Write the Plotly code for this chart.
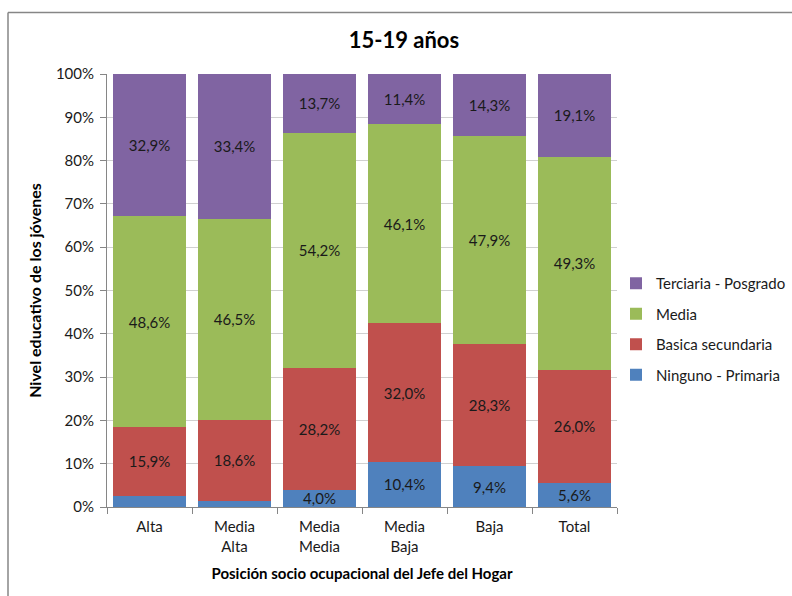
import plotly.graph_objects as go

categorias = ["Alta", "Media<br>Alta", "Media<br>Media", "Media<br>Baja", "Baja", "Total"]

ninguno_primaria = [2.6, 1.5, 4.0, 10.4, 9.4, 5.6]
basica_secundaria = [15.9, 18.6, 28.2, 32.0, 28.3, 26.0]
media = [48.6, 46.5, 54.2, 46.1, 47.9, 49.3]
terciaria_posgrado = [32.9, 33.4, 13.7, 11.4, 14.3, 19.1]

# segments too thin to carry a label
ocultar = {"Ninguno - Primaria": [True, True, False, False, False, False]}

series = [
    ("Ninguno - Primaria", ninguno_primaria, "#4F81BD"),
    ("Basica secundaria", basica_secundaria, "#C0504D"),
    ("Media", media, "#9BBB59"),
    ("Terciaria - Posgrado", terciaria_posgrado, "#8064A2"),
]

FONT = "Lato, 'Open Sans', sans-serif"
fig = go.Figure()
for i, (nombre, valores, color) in enumerate(series):
    skip = ocultar.get(nombre, [False] * len(valores))
    textos = ["" if s else f"{v:.1f}%".replace(".", ",") for v, s in zip(valores, skip)]
    fig.add_trace(go.Bar(
        x=categorias, y=valores, name=nombre,
        marker=dict(color=color, line=dict(width=0)),
        text=textos, textposition="inside", insidetextanchor="middle",
        constraintext="none", textangle=0,
        textfont=dict(family=FONT, size=15, color="#1a1a1a"),
        legendgroup=f"g{i}", legendrank=100 - i, hoverinfo="skip",
    ))

L, R, T, B = 107, 617, 74, 507
W, H = 792, 596
pw, ph = R - L, B - T

fig.update_layout(
    width=W, height=H,
    margin=dict(l=L, r=W - R, t=T, b=H - B, pad=0, autoexpand=False),
    barmode="stack", bargap=0.15,
    paper_bgcolor="white", plot_bgcolor="white",
    font=dict(family=FONT, size=15, color="#404040"),
    title=dict(text="<b>15-19 años</b>", x=0.51, xref="container", xanchor="center",
               y=1 - 40 / H, yref="container", yanchor="middle",
               font=dict(family=FONT, size=22, color="#000000")),
    legend=dict(x=(616 - L) / pw, xanchor="left", y=(507 - 267) / ph, yanchor="top",
                traceorder="grouped", tracegroupgap=8,
                font=dict(family=FONT, size=15, color="#1a1a1a"),
                itemwidth=30, bgcolor="rgba(0,0,0,0)"),
    showlegend=True,
)
fig.update_xaxes(
    showgrid=False, showline=True, linecolor="#868686", linewidth=1,
    ticks="outside", tickson="boundaries", ticklen=6, tickcolor="#868686",
    ticklabelstandoff=6,
    tickfont=dict(family=FONT, size=15, color="#1a1a1a"),
    title=dict(text="<b>Posición socio ocupacional del Jefe del Hogar</b>",
               font=dict(family=FONT, size=15, color="#000000"), standoff=14),
)
fig.update_yaxes(
    range=[0, 100], dtick=10, ticksuffix="%",
    showgrid=True, gridcolor="#d0d0d0", gridwidth=1,
    showline=True, linecolor="#868686", linewidth=1,
    ticks="outside", ticklen=6, tickcolor="#868686",
    ticklabelstandoff=3,
    tickfont=dict(family=FONT, size=15, color="#1a1a1a"),
    title=dict(text="<b>Nivel educativo de los jóvenes</b>",
               font=dict(family=FONT, size=16, color="#000000"), standoff=10),
)

# chart-area frame (top and left edges)
fx = (8 - L) / pw
fy = (B - 12.5) / ph
fig.add_shape(type="line", xref="paper", yref="paper", x0=fx, x1=(W - L) / pw,
              y0=fy, y1=fy, line=dict(color="#868686", width=1.5))
fig.add_shape(type="line", xref="paper", yref="paper", x0=fx, x1=fx,
              y0=fy, y1=(B - H) / ph, line=dict(color="#868686", width=1.5))

fig.write_html("out.html", config={"displayModeBar": False})
